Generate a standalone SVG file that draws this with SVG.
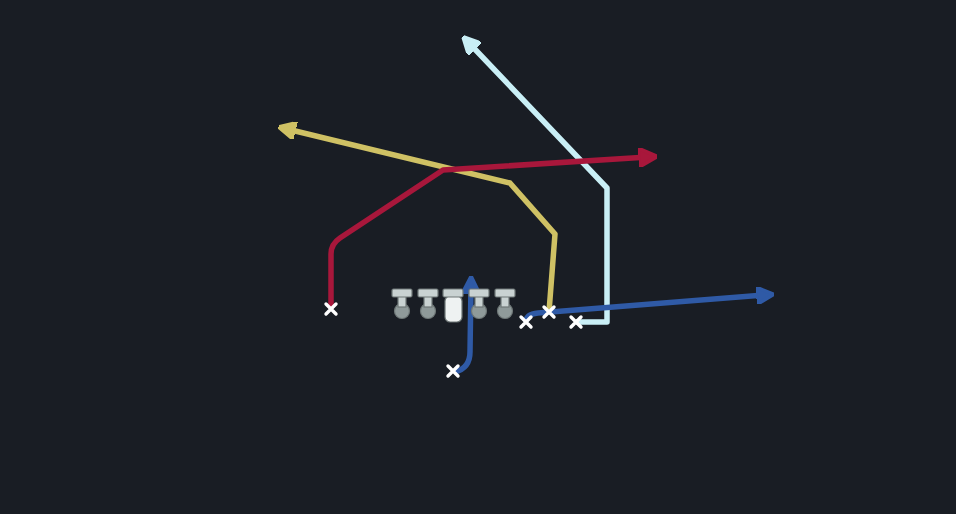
<svg xmlns="http://www.w3.org/2000/svg" width="956" height="514" viewBox="0 0 956 514">
<defs>
<style>
.route{fill:none;stroke-width:5.5;stroke-linejoin:round;stroke-linecap:butt}
.x{stroke:#ffffff;stroke-width:3.4;stroke-linecap:round}
.lm{fill:#c9d2d2;stroke:#6e7777;stroke-width:1.2}
.lmc{fill:#8f9a9a;stroke:#6e7777;stroke-width:1.2}
</style>
<marker id="aRed" viewBox="0 0 10 10" refX="5" refY="5" markerWidth="3.4" markerHeight="3.4" orient="auto"><path d="M0,0 L10,5 L0,10 z" fill="#a8173b" stroke="#a8173b" stroke-width="2" stroke-linejoin="round"/></marker>
<marker id="aYel" viewBox="0 0 10 10" refX="5" refY="5" markerWidth="3.2" markerHeight="3.2" orient="auto"><path d="M0,0 L10,5 L0,10 z" fill="#cfc164" stroke="#cfc164" stroke-width="2" stroke-linejoin="round"/></marker>
<marker id="aLb" viewBox="0 0 10 10" refX="5" refY="5" markerWidth="3.2" markerHeight="3.2" orient="auto"><path d="M0,0 L10,5 L0,10 z" fill="#c9eff6" stroke="#c9eff6" stroke-width="2" stroke-linejoin="round"/></marker>
<marker id="aBlue" viewBox="0 0 10 10" refX="5" refY="5" markerWidth="3.2" markerHeight="3.2" orient="auto"><path d="M0,0 L10,5 L0,10 z" fill="#2f5aa6" stroke="#2f5aa6" stroke-width="2" stroke-linejoin="round"/></marker>
</defs>
<rect width="956" height="514" fill="#191d24"/>
<g id="connectors">
<path class="route" stroke="#cfc164" d="M549,312 L555,234 L510,183 L287,129" marker-end="url(#aYel)"/>
<path class="route" stroke="#c9eff6" d="M576,322 L607,322 L607,188 L469,43" marker-end="url(#aLb)"/>
<path class="route" stroke="#a8173b" d="M331,309 L331,254 Q331,244 340,238 L443,170 L648,157" marker-end="url(#aRed)"/>
<path class="route" stroke="#2f5aa6" d="M526,322 Q526,314 538,313 L765,295" marker-end="url(#aBlue)"/>
<path class="route" stroke="#2f5aa6" d="M455,372 Q470,368 470,352 L471,285" marker-end="url(#aBlue)"/>
</g>
<g id="linemen">
<g id="lt"><circle class="lmc" cx="402" cy="311" r="7.5"/><rect class="lm" x="398" y="295" width="8" height="12"/><rect class="lm" x="392" y="289" width="20" height="8" rx="1.5"/></g>
<g id="lg"><circle class="lmc" cx="428" cy="311" r="7.5"/><rect class="lm" x="424" y="295" width="8" height="12"/><rect class="lm" x="418" y="289" width="20" height="8" rx="1.5"/></g>
<g id="c"><rect x="445" y="296" width="17" height="26" rx="5" fill="#eef2f2" stroke="#6e7777" stroke-width="1.2"/><rect class="lm" x="443" y="289" width="20" height="8" rx="1.5"/></g>
<g id="rg"><circle class="lmc" cx="479" cy="311" r="7.5"/><rect class="lm" x="475" y="295" width="8" height="12"/><rect class="lm" x="469" y="289" width="20" height="8" rx="1.5"/></g>
<g id="rt"><circle class="lmc" cx="505" cy="311" r="7.5"/><rect class="lm" x="501" y="295" width="8" height="12"/><rect class="lm" x="495" y="289" width="20" height="8" rx="1.5"/></g>
</g>
<g id="p1"><path class="x" d="M326,304 L336,314 M336,304 L326,314"/></g>
<g id="qb"><path class="x" d="M448,366 L458,376 M458,366 L448,376"/></g>
<g id="p3"><path class="x" d="M521,317 L531,327 M531,317 L521,327"/></g>
<g id="p4"><path class="x" d="M544,307 L554,317 M554,307 L544,317"/></g>
<g id="p5"><path class="x" d="M571,317 L581,327 M581,317 L571,327"/></g>
</svg>
